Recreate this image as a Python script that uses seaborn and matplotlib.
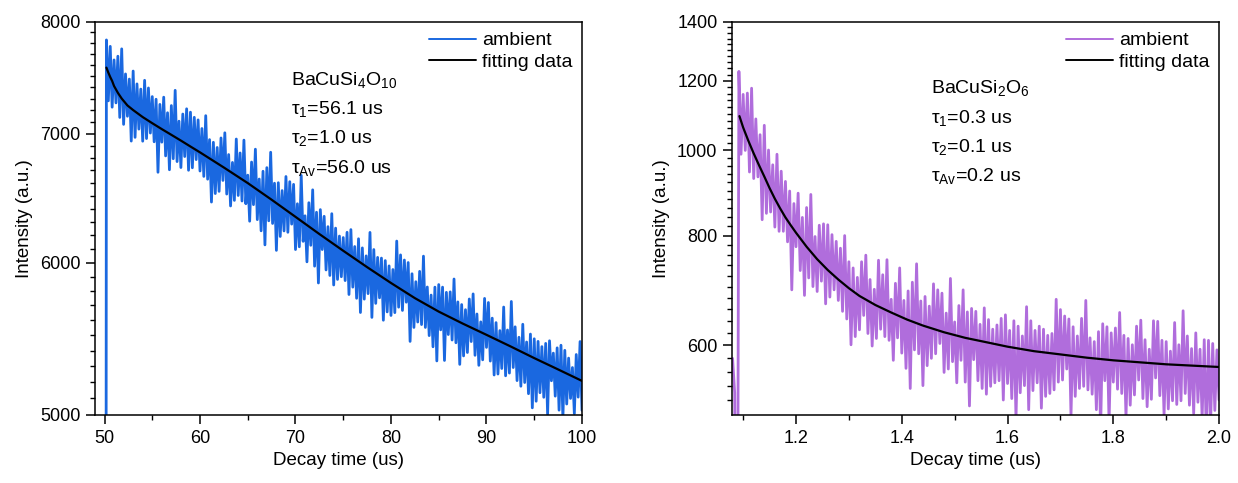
import numpy as np
import seaborn as sns
import matplotlib.pyplot as plt
from matplotlib.ticker import NullFormatter

# ---- BaCuSi4O10 decay (left panel), sampled every 0.2 us from 50 to 100 us
left_intensity = [
    300, 7830, 7280, 7770, 7225,
    7645, 7262, 7679, 7137, 7747,
    7078, 7518, 7147, 7472, 6938,
    7544, 6969, 7429, 7038, 7383,
    6937, 7461, 6959, 7393, 7005,
    7317, 6932, 7294, 6684, 7249,
    6929, 7312, 6816, 7177, 6704,
    7239, 6793, 7372, 6770, 7105,
    6722, 7166, 6811, 7211, 6700,
    7182, 6720, 7138, 6786, 7116,
    6694, 7043, 6651, 7152, 6629,
    6950, 6450, 6928, 6516, 6885,
    6533, 6964, 6619, 7007, 6512,
    6827, 6420, 6763, 6463, 6955,
    6501, 6840, 6458, 6946, 6437,
    6661, 6304, 6766, 6430, 6871,
    6316, 6630, 6232, 6692, 6128,
    6721, 6307, 6846, 6287, 6597,
    6088, 6601, 6190, 6539, 6231,
    6650, 6221, 6609, 6282, 6588,
    6094, 6437, 6114, 6659, 6154,
    6345, 6005, 6445, 6125, 6545,
    5974, 6372, 5855, 6392, 6094,
    6341, 5947, 6263, 5908, 6361,
    5841, 6252, 5880, 6193, 5899,
    6182, 5872, 6221, 5775, 6241,
    5826, 6116, 5749, 6173, 5652,
    6106, 5743, 6048, 5781, 6220,
    5619, 6094, 5714, 6037, 5752,
    6032, 5600, 6014, 5656, 5976,
    5632, 5950, 5651, 6156, 5688,
    6055, 5666, 6018, 5722, 6000,
    5460, 5920, 5552, 5864, 5588,
    5937, 5571, 6046, 5552, 5827,
    5498, 5771, 5425, 5826, 5334,
    5844, 5536, 5826, 5337, 5790,
    5505, 5793, 5469, 5883, 5451,
    5724, 5312, 5706, 5366, 5671,
    5388, 5744, 5459, 5779, 5370,
    5642, 5306, 5589, 5341, 5748,
    5421, 5720, 5333, 5614, 5245,
    5584, 5251, 5531, 5286, 5689,
    5240, 5535, 5257, 5727, 5292,
    5556, 5210, 5487, 5175, 5573,
    5198, 5456, 5129, 5508, 5043,
    5477, 5083, 5460, 5135, 5426,
    5107, 5447, 5005, 5464, 5209,
    5384, 5114, 5418, 5029, 5435,
    4982, 5402, 5066, 5352, 5100,
    5292, 5008, 5375, 5108, 5459,
    5028,
]
left_fit_time = [50.2, 50.4, 50.6, 50.8, 51.0, 51.4, 51.8, 52.4, 53, 54, 55, 56,
                 57, 58, 59, 60, 62.5, 65, 67.5, 70, 72.5, 75, 77.5, 80, 82.5,
                 85, 87.5, 90, 92.5, 95, 97.5, 100]
left_fit = [7575, 7530, 7490, 7455, 7410, 7350, 7300, 7240, 7200, 7140, 7088,
            7038, 6990, 6942, 6893, 6845, 6722, 6598, 6468, 6337, 6208, 6085,
            5967, 5855, 5750, 5658, 5578, 5503, 5428, 5352, 5280, 5208]

# ---- BaCuSi2O6 decay (right panel), sampled every 0.004 us from 1.08 to 2.0 us
right_intensity = [
    580, 530, 150, 1230, 990,
    1158, 1000, 1162, 945, 1177,
    929, 1086, 933, 1042, 834,
    1068, 848, 1001, 851, 963,
    818, 990, 809, 947, 809,
    922, 787, 899, 694, 870,
    777, 894, 730, 839, 684,
    861, 716, 891, 700, 798,
    691, 822, 710, 825, 669,
    823, 681, 802, 694, 788,
    675, 774, 656, 800, 643,
    747, 601, 735, 614, 717,
    625, 747, 649, 760, 619,
    713, 599, 695, 611, 750,
    626, 722, 614, 751, 608,
    677, 577, 706, 612, 735,
    588, 675, 565, 692, 536,
    708, 593, 743, 587, 674,
    540, 682, 569, 665, 580,
    705, 587, 694, 603, 688,
    559, 653, 564, 715, 575,
    638, 544, 666, 577, 694,
    545, 655, 512, 661, 578,
    656, 547, 634, 536, 662,
    528, 642, 539, 626, 544,
    633, 547, 644, 520, 650,
    543, 624, 522, 640, 495,
    631, 530, 615, 540, 664,
    507, 640, 533, 624, 544,
    631, 509, 626, 525, 616,
    529, 619, 534, 677, 545,
    659, 548, 648, 564, 643,
    499, 630, 525, 615, 536,
    644, 539, 675, 534, 612,
    528, 606, 507, 622, 481,
    635, 547, 630, 490, 620,
    545, 628, 535, 654, 529,
    616, 497, 611, 513, 601,
    527, 631, 548, 641, 522,
    609, 511, 594, 521, 640,
    551, 639, 526, 608, 500,
    606, 508, 591, 519, 637,
    514, 601, 519, 657, 529,
    615, 513, 595, 502, 620,
    517, 594, 496, 609, 471,
    608, 490, 603, 506, 593,
    520,
]
right_fit_time = [1.093, 1.10, 1.11, 1.12, 1.13, 1.14, 1.15, 1.16, 1.17, 1.18,
                  1.19, 1.20, 1.22, 1.24, 1.26, 1.28, 1.30, 1.32, 1.35, 1.38,
                  1.41, 1.44, 1.48, 1.52, 1.56, 1.60, 1.65, 1.70, 1.75, 1.80,
                  1.85, 1.90, 1.95, 2.00]
right_fit = [1094, 1062, 1025, 992, 962, 934, 906, 881, 859, 839,
             822, 806, 777, 752, 731, 713, 697, 683, 667, 654,
             642, 632, 621, 612, 605, 598, 591, 586, 581, 577,
             574, 571, 569, 567]

left_labels = ["BaCuSi$_4$O$_{10}$", "τ$_1$=56.1 us", "τ$_2$=1.0 us",
               r"τ$_{\mathrm{Av}}$=56.0 us"]
right_labels = ["BaCuSi$_2$O$_6$", "τ$_1$=0.3 us", "τ$_2$=0.1 us",
                r"τ$_{\mathrm{Av}}$=0.2 us"]

# sampling grids of the instrument
left_time = np.linspace(50.0, 100.0, len(left_intensity))
right_time = np.linspace(1.08, 2.0, len(right_intensity))

sns.set_style("ticks", {"axes.edgecolor": "black", "text.color": "black",
                        "xtick.color": "black", "ytick.color": "black",
                        "axes.labelcolor": "black"})
plt.rcParams["font.family"] = ["Liberation Sans", "DejaVu Sans"]
plt.rcParams["mathtext.fontset"] = "custom"
plt.rcParams["mathtext.rm"] = "Liberation Sans"
plt.rcParams["mathtext.it"] = "Liberation Sans:italic"
plt.rcParams["mathtext.bf"] = "Liberation Sans:bold"


def decay_panel(ax, t, y, fit_t, fit_y, color, xlim, ylim, xmajor, xminor,
                ymajor, yminor, xlabels, notes, note_x, note_y):
	# dense noisy trace: a thicker line keeps the band filled like the raw record
	sns.lineplot(x=t, y=y, ax=ax, color=color, linewidth=2.0,
	             estimator=None, label="ambient")
	sns.lineplot(x=fit_t, y=fit_y, ax=ax, color="black", linewidth=1.6,
	             estimator=None, label="fitting data")
	ax.set_yscale("log")
	ax.set_xlim(*xlim)
	ax.set_ylim(*ylim)
	ax.set_xticks(xmajor, labels=xlabels)
	ax.set_xticks(xminor, minor=True)
	ax.set_yticks(ymajor, labels=[str(v) for v in ymajor])
	ax.set_yticks(yminor, minor=True)
	ax.yaxis.set_minor_formatter(NullFormatter())
	ax.xaxis.set_minor_formatter(NullFormatter())
	ax.tick_params(which="major", direction="out", length=6.5, width=1.1,
	               labelsize=13, pad=4)
	ax.tick_params(which="minor", direction="out", length=3.5, width=1.0)
	for sp in ax.spines.values():
		sp.set_visible(True)
		sp.set_linewidth(1.1)
		sp.set_color("black")
	ax.set_xlabel("Decay time (us)", fontsize=13.5, labelpad=4)
	ax.set_ylabel("Intensity (a.u.)", fontsize=13.5, labelpad=5)
	leg = ax.legend(loc="upper right", frameon=False, fontsize=14,
	                handlelength=2.4, handletextpad=0.3, labelspacing=0.2,
	                borderaxespad=0.1)
	for line in leg.get_lines():
		line.set_linewidth(1.4)
	for txt, yy in zip(notes, note_y):
		ax.text(note_x, yy, txt, transform=ax.transAxes, fontsize=14,
		        va="center", ha="left")


fig = plt.figure(figsize=(12.38, 4.83), dpi=100)
ax1 = fig.add_axes([0.0767, 0.1408, 0.3934, 0.8137])
ax2 = fig.add_axes([0.5913, 0.1408, 0.3934, 0.8137])

decay_panel(ax1, left_time, left_intensity, left_fit_time, left_fit, "#1a68e0",
            (49, 100), (5000, 8000),
            [50, 60, 70, 80, 90, 100], [55, 65, 75, 85, 95],
            [5000, 6000, 7000, 8000],
            [v for v in range(5100, 8000, 100) if v % 1000],
            ["50", "60", "70", "80", "90", "100"],
            left_labels, 0.402, [0.852, 0.779, 0.705, 0.628])

decay_panel(ax2, right_time, right_intensity, right_fit_time, right_fit, "#b06ddc",
            (1.079, 2.0), (500, 1400),
            [1.2, 1.4, 1.6, 1.8, 2.0], [1.1, 1.3, 1.5, 1.7, 1.9],
            [600, 800, 1000, 1200, 1400],
            [v for v in range(520, 1400, 20) if v % 200],
            ["1.2", "1.4", "1.6", "1.8", "2.0"],
            right_labels, 0.408, [0.831, 0.755, 0.683, 0.607])

fig.savefig("out.png", dpi=100)
plt.close(fig)
